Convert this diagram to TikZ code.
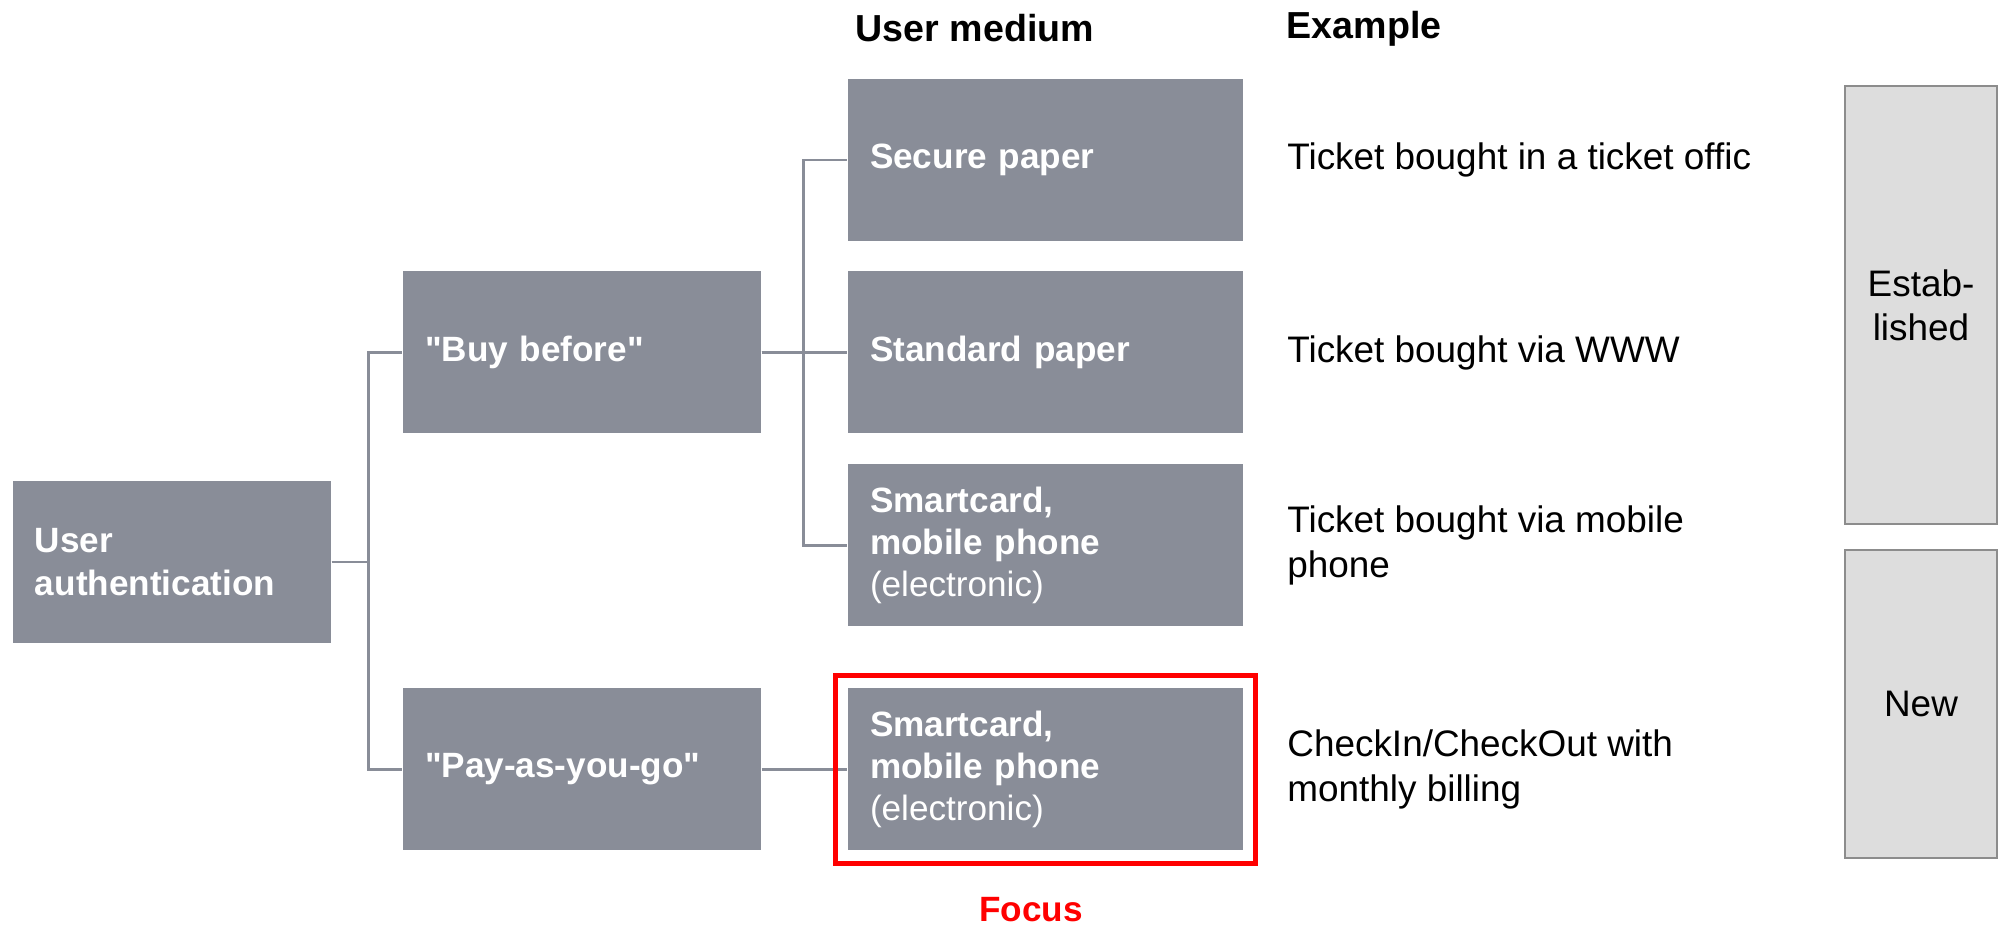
\documentclass[tikz,border=0pt]{standalone}
\usepackage{fontspec}
\setmainfont{Liberation Sans}[Ligatures=TeXOff]
\usetikzlibrary{positioning, fit}

\definecolor{boxgray}{RGB}{137,141,152}
\definecolor{tagfill}{RGB}{221,221,221}
\definecolor{tagdraw}{RGB}{140,140,140}

\begin{document}
\begin{tikzpicture}[font=\fontsize{10.5}{12.6}\selectfont]

  % Styles
  \tikzset{
    catbox/.style={rectangle, fill=boxgray, text=white, font=\bfseries,
      align=left, text width=#1, inner xsep=0.22cm, inner ysep=0pt,
      minimum height=1.62cm},
    link/.style={draw=boxgray, line width=0.75pt},
    header/.style={font=\fontsize{10.7}{13}\selectfont\bfseries, anchor=west, inner sep=0pt},
    extext/.style={anchor=west, inner sep=0pt, align=left},
    tag/.style={rectangle, draw=tagdraw, fill=tagfill, line width=0.5pt,
      minimum width=1.52cm, align=center},
    focusframe/.style={draw=red, line width=1.5pt, inner sep=0.12cm}
  }

  \useasboundingbox (0,0) rectangle (20.05,9.26);

  %% Column headers
  \node[header] (hmedium)  at (8.55,8.975) {User medium};
  \node[header] (hexample) at (12.86,8.975) {Example};

  %% Tree of boxes
  \node[catbox=2.74cm] (auth) at (1.72,3.64) {User\\authentication};

  \node[catbox=3.14cm] (buy) at (5.82,5.735) {"Buy before"};
  \node[catbox=3.14cm] (pay) at (5.82,1.565) {"Pay-as-you-go"};

  \node[catbox=3.51cm] (secure)   at (10.455,7.66)  {Secure paper};
  \node[catbox=3.51cm] (standard) at (10.455,5.735) {Standard paper};
  \node[catbox=3.51cm] (smart)    at (10.455,3.805)
    {Smartcard,\\mobile phone\\{\mdseries (electronic)}};
  \node[catbox=3.51cm] (smartpay) at (10.455,1.565)
    {Smartcard,\\mobile phone\\{\mdseries (electronic)}};

  % Connectors
  \draw[link] (auth.east) -- ++(0.37,0) |- (buy.west);
  \draw[link] (auth.east) -- ++(0.37,0) |- (pay.west);
  \draw[link] (buy.east) -- ++(0.42,0) |- (secure.west);
  \draw[link] (buy.east) -- (standard.west);
  \draw[link] (buy.east) -- ++(0.42,0) |- (smart.west);
  \draw[link] (pay.east) -- (smartpay.west);

  %% Focus frame
  \node[focusframe, fit=(smartpay)] (focus) {};
  \node[font=\bfseries, text=red] (focuslabel) at (10.31,0.16) {Focus};

  %% Examples
  \node[extext, right=0.43cm of secure]   (ex1) {Ticket bought in a ticket offic};
  \node[extext, right=0.43cm of standard] (ex2) {Ticket bought via WWW};
  \node[extext, right=0.43cm of smart]    (ex3) {Ticket bought via mobile\\phone};
  \node[extext, right=0.43cm of smartpay] (ex4) {CheckIn/CheckOut with\\monthly billing};

  %% Status tags
  \node[tag, minimum height=4.38cm] (established) at (19.21,6.21) {Estab-\\lished};
  \node[tag, minimum height=3.08cm] (new) at (19.21,2.22) {New};

\end{tikzpicture}
\end{document}
